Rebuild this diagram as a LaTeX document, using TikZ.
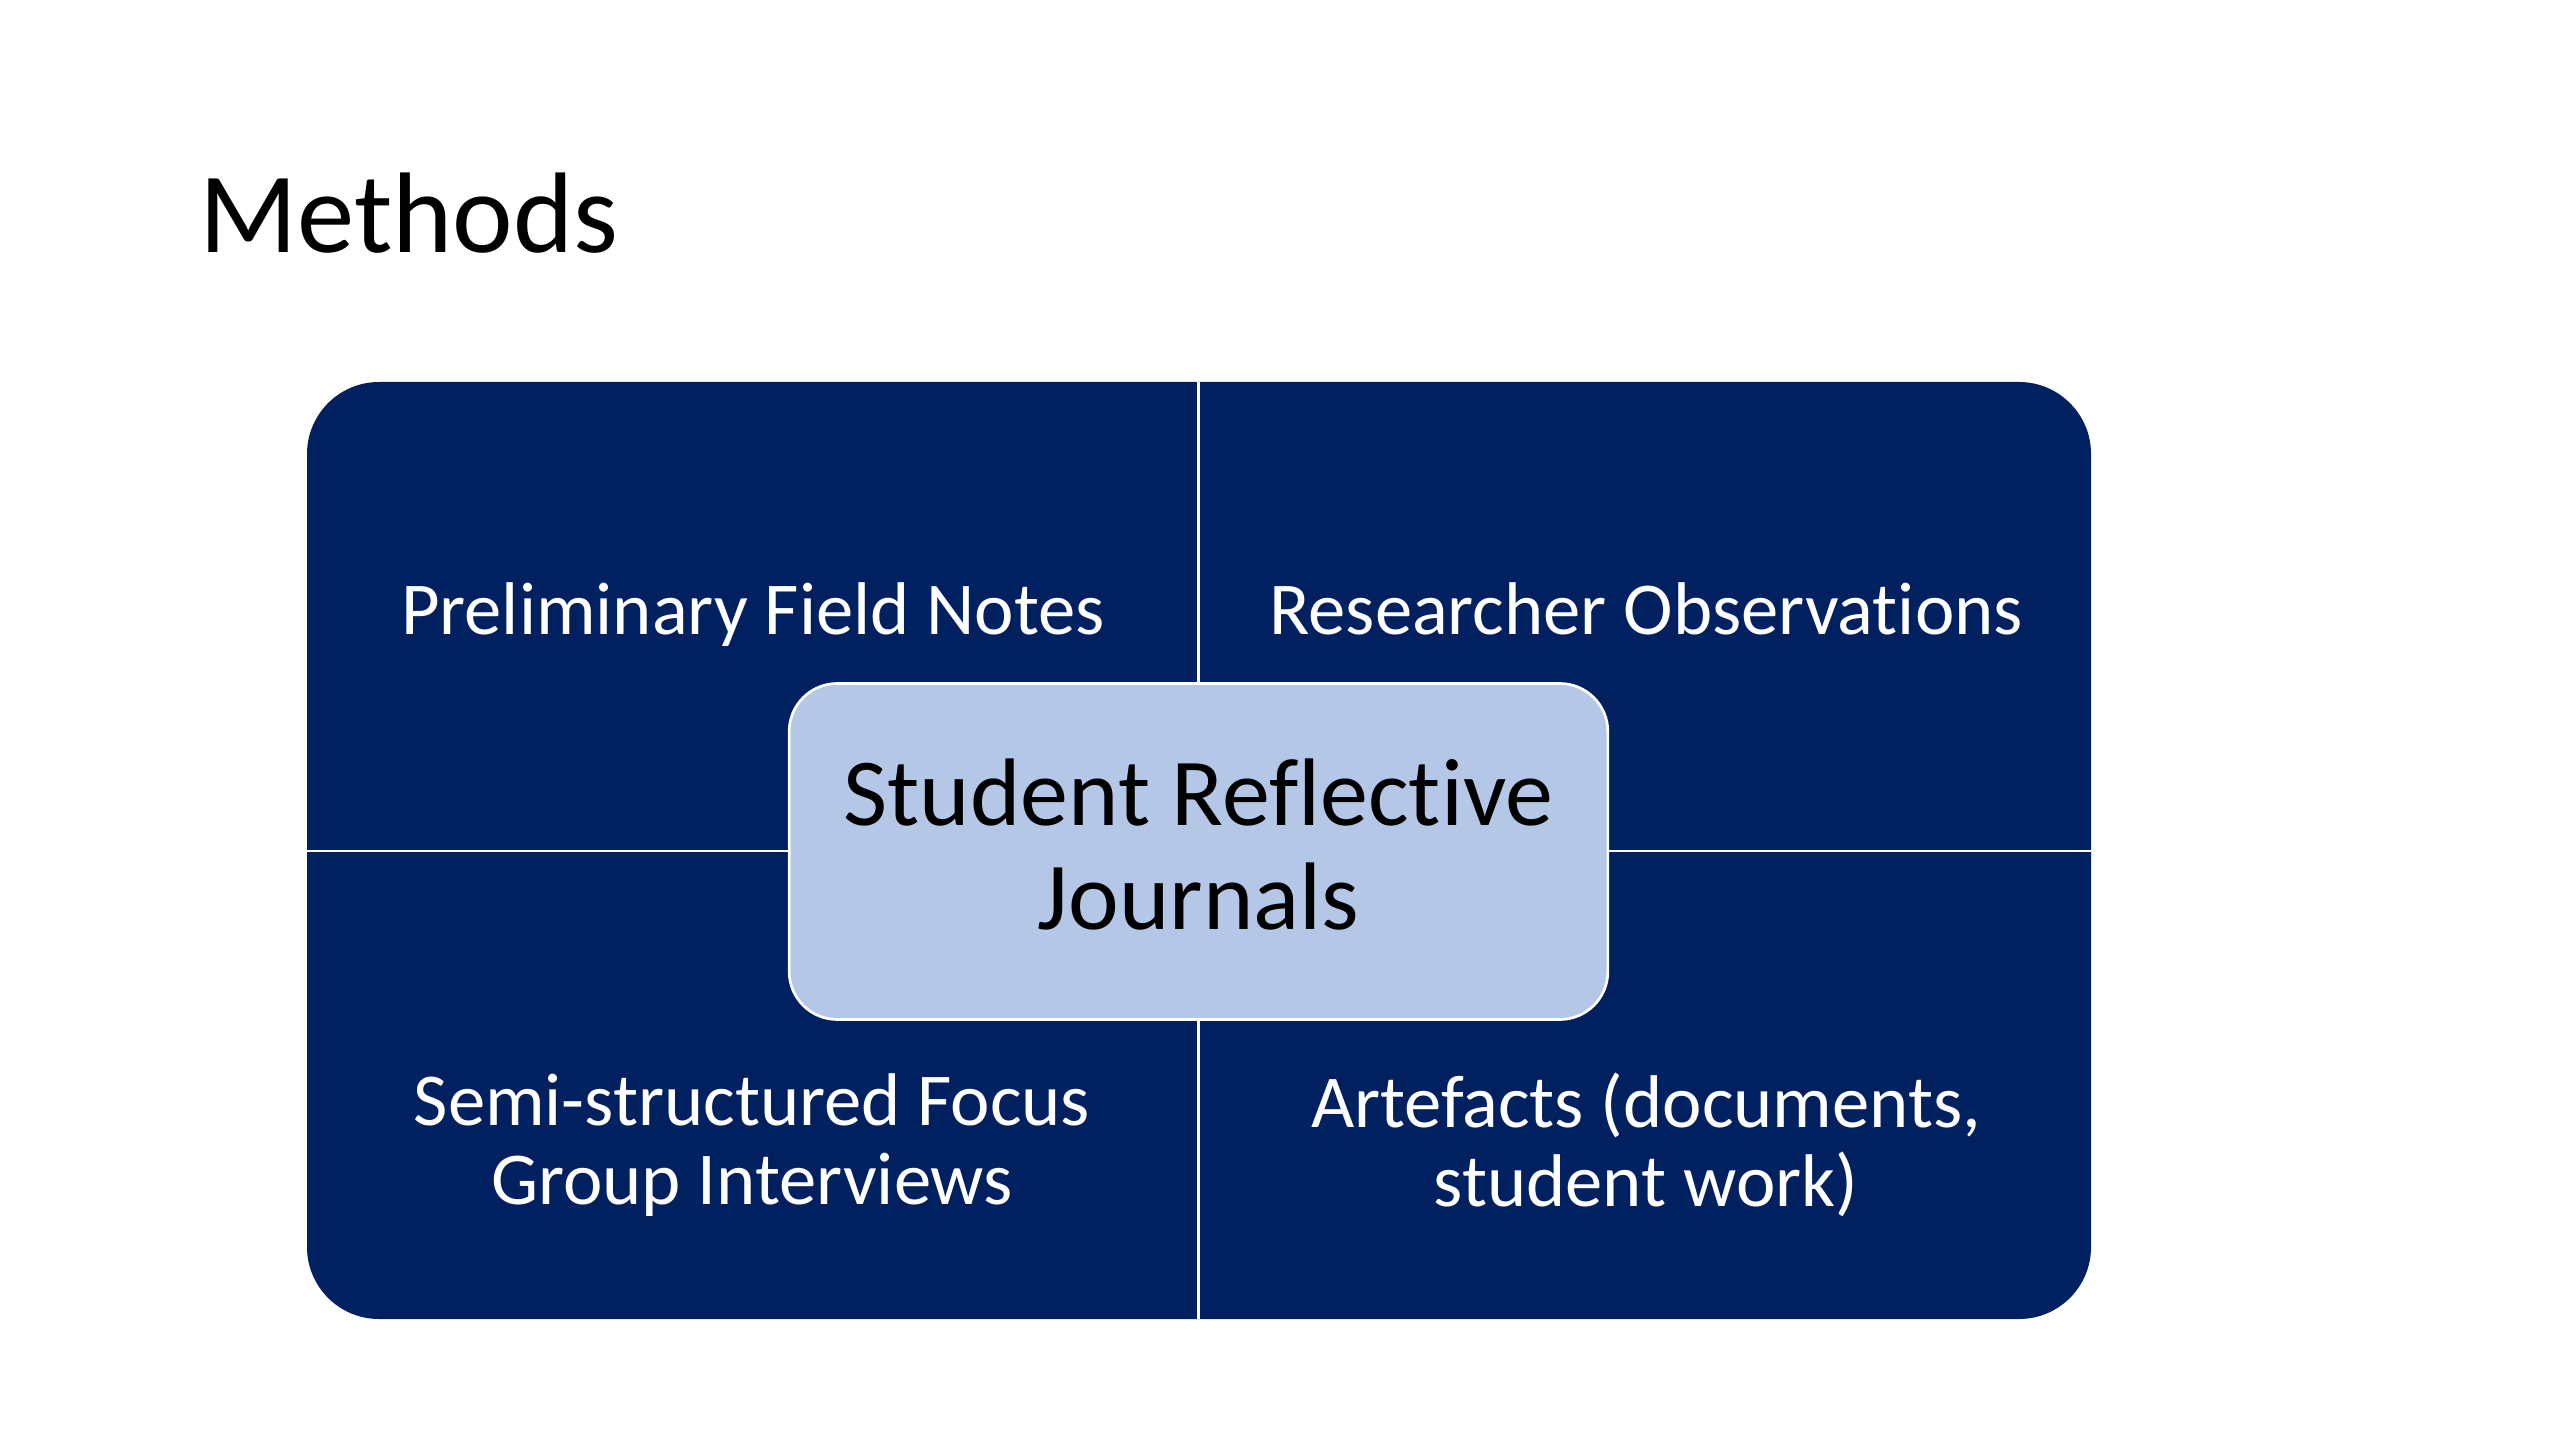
\documentclass[tikz,border=0pt]{standalone}
\usepackage{fontspec}
\setmainfont{Carlito}[Ligatures=NoCommon]
\usepackage{xcolor}
\usepackage{tikz}
\definecolor{navy}{HTML}{002060}
\definecolor{paleblue}{HTML}{B4C7E7}

\begin{document}
\begin{tikzpicture}[x=0.375pt, y=-0.375pt,
  quad/.style={text=white, font=\fontsize{28}{29.5}\selectfont, align=center},
  hub/.style={fill=paleblue, draw=white, line width=1pt, rounded corners=18pt,
    minimum width=307pt, minimum height=126pt},
  hubtext/.style={align=center, font=\fontsize{36}{39}\selectfont}]
  \useasboundingbox (0,0) rectangle (2560,1440);
  \node[anchor=base west, inner sep=0pt, font=\fontsize{43}{50}\selectfont] (title) at (199,253) {Methods};

  % matrix background and quadrant dividers
  \fill[navy, rounded corners=27pt] (307,382) rectangle (2091,1319);
  \draw[white, line width=0.9pt] (1198.5,382) -- (1198.5,1319);
  \draw[white, line width=0.9pt] (307,851) -- (2091,851);

  \node[quad, anchor=base] (pfn) at (753,634) {Preliminary Field Notes};
  \node[quad, anchor=base] (ro) at (1646,634) {Researcher Observations};
  \node[quad] (sfg) at (752,1145) {Semi-structured Focus\\Group Interviews};
  \node[quad] (art) at (1646,1145) {Artefacts (documents,\\student work)};

  \node[hub] (srj) at (1198.5,851.5) {};
  \node[hubtext] (srjtext) at (1198.5,845) {Student Reflective\\Journals};
\end{tikzpicture}
\end{document}
